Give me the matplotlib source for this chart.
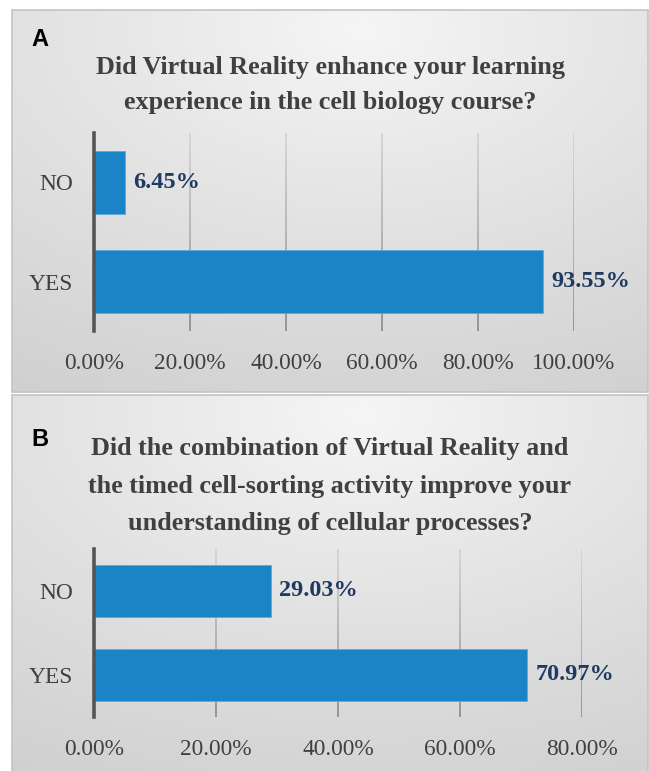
import matplotlib
matplotlib.use("Agg")
import matplotlib.pyplot as plt
import numpy as np
from matplotlib.collections import LineCollection
from matplotlib.patches import Rectangle

W, H = 649, 771

# data
answers = ["YES", "NO"]
share_a = [93.55, 6.45]
share_b = [70.97, 29.03]
ticks_a = [0, 20, 40, 60, 80, 100]
ticks_b = [0, 20, 40, 60, 80]
title_a = "Did Virtual Reality enhance your learning\nexperience in the cell biology course?"
title_b = ("Did the combination of Virtual Reality and\n"
           "the timed cell-sorting activity improve your\n"
           "understanding of cellular processes?")

bar_color = "#1b84c7"
value_color = "#1f3a60"
text_color = "#404040"
serif = ["Liberation Serif", "DejaVu Serif"]


def box(x0, y0, x1, y1):
    # pixel box (top-left origin) -> figure fraction rect
    return [x0 / W, 1 - y1 / H, (x1 - x0) / W, (y1 - y0) / H]


def panel_bg(fig, rect):
    ax = fig.add_axes(rect, zorder=0)
    ny, nx = 200, 200
    yy, xx = np.mgrid[0:1:ny * 1j, 0:1:nx * 1j]
    d = np.sqrt((xx - 0.55) ** 2 + (yy - 0.05) ** 2)
    d = np.clip(d / 1.1, 0, 1)
    top, bot = 0.965, 0.815
    img = top + (bot - top) * d ** 0.9
    ax.imshow(np.dstack([img] * 3), extent=[0, 1, 1, 0], aspect="auto")
    ax.set_xlim(0, 1)
    ax.set_ylim(1, 0)
    ax.axis("off")
    ax.add_patch(Rectangle((0, 0), 1, 1, transform=ax.transAxes, fill=False,
                           edgecolor="#c4c4c4", lw=1.2, clip_on=False))
    return ax


def grad_grid(ax, xs):
    segs, cols = [], []
    n = 40
    t = np.linspace(0, 1, n + 1)
    for x in xs:
        for i in range(n):
            segs.append([(x, t[i]), (x, t[i + 1])])
            g = 0.56 + 0.28 * t[i]
            cols.append((g, g, g))
    lc = LineCollection(segs, colors=cols, linewidths=1.3,
                        transform=ax.get_xaxis_transform(), zorder=1)
    ax.add_collection(lc)


def bar_panel(fig, rect, values, ticks, xmax):
    ax = fig.add_axes(rect, zorder=2)
    ax.set_facecolor("none")
    y = np.arange(len(answers))
    ax.barh(y, values, height=0.63, color=bar_color, edgecolor="#5fa9dc",
            linewidth=0.6, zorder=3)
    ax.set_xlim(0, xmax)
    ax.set_ylim(-0.5, len(answers) - 0.5)
    grad_grid(ax, ticks[1:])
    ax.set_xticks(ticks)
    ax.set_xticklabels([f"{t:.2f}%" for t in ticks], family=serif,
                       fontsize=16.8, color=text_color)
    ax.set_yticks(y)
    ax.set_yticklabels(answers, family=serif, fontsize=16.8, color=text_color)
    ax.tick_params(axis="x", length=0, pad=16)
    ax.tick_params(axis="y", length=0, pad=15)
    for s in ["top", "right", "bottom"]:
        ax.spines[s].set_visible(False)
    ax.spines["left"].set_color("#555555")
    ax.spines["left"].set_linewidth(2.6)
    ax.spines["left"].set_zorder(4)
    for yi, v in zip(y, values):
        ax.text(v + xmax * 0.017, yi, f"{v:.2f}%", va="center", ha="left",
                family=serif, fontsize=17.5, fontweight="bold",
                color=value_color, zorder=5)
    return ax


fig = plt.figure(figsize=(W / 100, H / 100), dpi=100)
fig.patch.set_facecolor("white")

panel_bg(fig, box(12, 10, 648, 392))
panel_bg(fig, box(12, 395, 648, 775))

bar_panel(fig, box(94, 133, 574, 331), share_a, ticks_a, 100)
bar_panel(fig, box(94, 549, 582, 717), share_b, ticks_b, 80)

fig.text(330 / W, 1 - 85 / H, title_a, ha="center", va="center",
         family=serif, fontsize=18.8, fontweight="bold", color=text_color,
         linespacing=1.72, zorder=5)
fig.text(330 / W, 1 - 486 / H, title_b, ha="center", va="center",
         family=serif, fontsize=18.8, fontweight="bold", color=text_color,
         linespacing=1.78, zorder=5)
fig.text(40 / W, 1 - 40 / H, "A", ha="center", va="center",
         family=["Liberation Sans", "DejaVu Sans"], fontsize=17,
         fontweight="bold", color="black", zorder=5)
fig.text(40 / W, 1 - 440 / H, "B", ha="center", va="center",
         family=["Liberation Sans", "DejaVu Sans"], fontsize=17,
         fontweight="bold", color="black", zorder=5)

fig.savefig("out.png", dpi=100)
